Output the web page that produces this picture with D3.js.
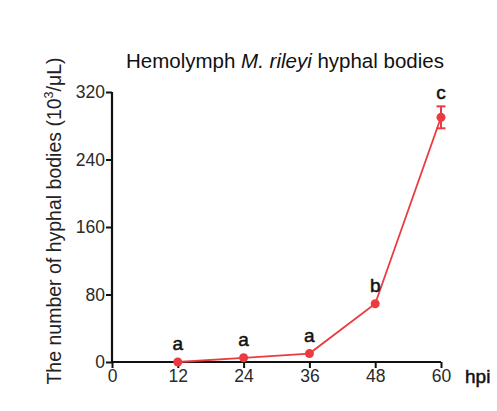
<!DOCTYPE html>
<html>
<head>
<meta charset="utf-8" />
<style>
body { margin: 0; background-color: #fff; }
#chart { width: 497px; height: 411px; }
text { font-family: "Liberation Sans", Arial, sans-serif; }
</style>
</head>
<body>
<div id="chart"></div>
<script src="https://d3js.org/d3.v7.min.js"></script>
<script>

var hours = [12, 24, 36, 48, 60];
var counts = [0, 5, 10, 69, 290];
var errors = [0, 0, 0, 0, 13];
var letters = ["a", "a", "a", "b", "c"];
var xTicks = [0, 12, 24, 36, 48, 60];
var yTicks = [0, 80, 160, 240, 320];

var width = 497, height = 411;
var margin = {top: 92, right: 56, bottom: 49, left: 112};

var svg = d3.select("#chart").append("svg")
    .attr("width", width)
    .attr("height", height);

var x = d3.scaleLinear().domain([0, 60]).range([margin.left, width - margin.right]);
var y = d3.scaleLinear().domain([0, 320]).range([height - margin.bottom, margin.top]);

var red = "#ec3b40";

// axes
var xAxis = svg.append("g")
    .attr("transform", "translate(0," + y(0) + ")")
    .call(d3.axisBottom(x).tickValues(xTicks).tickSize(6).tickPadding(2));
var yAxis = svg.append("g")
    .attr("transform", "translate(" + x(0) + ",0)")
    .call(d3.axisLeft(y).tickValues(yTicks).tickSize(6).tickPadding(1));

[xAxis, yAxis].forEach(function(g) {
    g.select(".domain").attr("stroke", "#111").attr("stroke-width", 2.2);
    g.selectAll(".tick line").attr("stroke", "#111").attr("stroke-width", 2);
    g.selectAll(".tick text").attr("fill", "#2a2a2a").style("font-size", "17.5px");
});
xAxis.select(".domain").attr("d", "M" + x(0) + ",0H" + x(60));
yAxis.select(".domain").attr("d", "M0," + y(0) + "V" + y(320));

var pts = hours.map(function(h, i) { return {h: h, v: counts[i], e: errors[i], l: letters[i]}; });

svg.append("path")
    .datum(pts)
    .attr("fill", "none")
    .attr("stroke", red)
    .attr("stroke-width", 1.8)
    .attr("d", d3.line().x(function(d) { return x(d.h); }).y(function(d) { return y(d.v); }));

// error bars
var eb = svg.selectAll(".err").data(pts.filter(function(d) { return d.e > 0; })).enter().append("g");
eb.append("line")
    .attr("x1", function(d) { return x(d.h); }).attr("x2", function(d) { return x(d.h); })
    .attr("y1", function(d) { return y(d.v + d.e); }).attr("y2", function(d) { return y(d.v - d.e); })
    .attr("stroke", red).attr("stroke-width", 2);
[1, -1].forEach(function(s) {
    eb.append("line")
        .attr("x1", function(d) { return x(d.h) - 4.5; }).attr("x2", function(d) { return x(d.h) + 4.5; })
        .attr("y1", function(d) { return y(d.v + s * d.e); }).attr("y2", function(d) { return y(d.v + s * d.e); })
        .attr("stroke", red).attr("stroke-width", 2);
});

svg.selectAll(".pt").data(pts).enter().append("circle")
    .attr("cx", function(d) { return x(d.h); })
    .attr("cy", function(d) { return y(d.v); })
    .attr("r", 4.5)
    .attr("fill", red);

svg.selectAll(".lbl").data(pts).enter().append("text")
    .attr("x", function(d) { return x(d.h); })
    .attr("y", function(d) { return Math.min(y(d.v) - 12, y(d.v + d.e) - 7); })
    .attr("text-anchor", "middle")
    .style("font-size", "19px")
    .attr("fill", "#111")
    .attr("stroke", "#111")
    .attr("stroke-width", 0.5)
    .text(function(d) { return d.l; });

// title
var title = svg.append("text")
    .attr("x", 285).attr("y", 68)
    .attr("text-anchor", "middle")
    .style("font-size", "20.5px")
    .attr("fill", "#111");
title.append("tspan").text("Hemolymph ");
title.append("tspan").style("font-style", "italic").text("M. rileyi");
title.append("tspan").text(" hyphal bodies");

// y label
var yl = svg.append("text")
    .attr("transform", "translate(61," + 221 + ") rotate(-90)")
    .attr("text-anchor", "middle")
    .style("font-size", "19.5px")
    .attr("fill", "#222");
yl.append("tspan").text("The number of hyphal bodies (10");
yl.append("tspan").attr("dy", -8).style("font-size", "12.5px").text("3");
yl.append("tspan").attr("dy", 8).text("/\u03bcL)");

// x unit
svg.append("text")
    .attr("x", 465).attr("y", 383)
    .style("font-size", "19px")
    .attr("fill", "#111")
    .attr("stroke", "#111")
    .attr("stroke-width", 0.5)
    .text("hpi");

</script>
</body>
</html>
